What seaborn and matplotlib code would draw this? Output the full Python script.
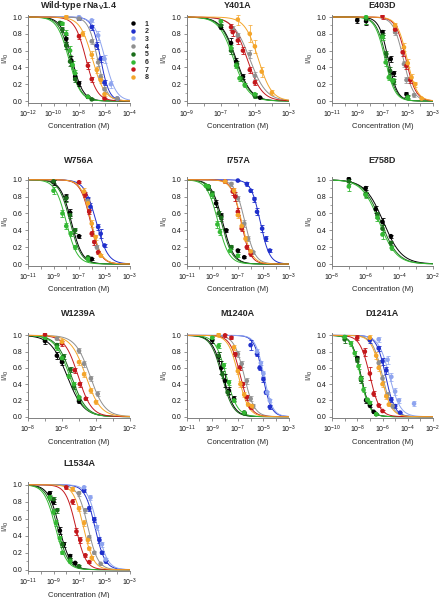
import numpy as np
import pandas as pd
import seaborn as sns
import matplotlib.pyplot as plt
from matplotlib.lines import Line2D
from matplotlib.ticker import FixedLocator, FuncFormatter, MultipleLocator, NullLocator

sns.set_theme(style="ticks")
plt.rcParams['font.family'] = ['Liberation Sans', 'DejaVu Sans']
plt.rcParams['mathtext.fontset'] = 'custom'
plt.rcParams['mathtext.rm'] = 'Liberation Sans'

# cores dos compostos 1-8
COLORS = {1: '#000000', 2: '#1f2fcc', 3: '#8ea4ef', 4: '#8f8f8f',
          5: '#1b6e1b', 6: '#33b833', 7: '#c4181c', 8: '#f4a52a'}

# ---- dados: fit (log IC50, nH) e pontos (log C, I/I0, erro) ----
WT_XLIM = (-12, -4)
WT_FIT = {1: (-8.55, 1.0), 2: (-6.3, 1.3), 3: (-5.95, 1.0), 4: (-6.55, 1.2),
          5: (-8.7, 1.0), 6: (-8.8, 0.95), 7: (-7.45, 1.0), 8: (-6.95, 0.9)}
WT_PTS = {
    1: ([-9, -8.6, -8.3, -8, -7.3], [0.74, 0.48, 0.29, 0.21, 0.05], [0.04, 0.05, 0.04, 0.03, 0.01]),
    2: ([-8, -7, -6.6, -6.3, -6, -5], [0.98, 0.88, 0.66, 0.50, 0.22, 0.03], [0.01, 0.03, 0.04, 0.04, 0.03, 0.01]),
    3: ([-8, -7, -6.5, -6, -5.5, -5], [1.0, 0.96, 0.78, 0.50, 0.20, 0.03], [0.01, 0.02, 0.05, 0.05, 0.04, 0.01]),
    4: ([-8, -7, -6.5, -6.3, -6, -5], [0.98, 0.71, 0.46, 0.29, 0.14, 0.03], [0.01, 0.03, 0.04, 0.03, 0.03, 0.01]),
    5: ([-9.5, -9.3, -9, -8.7, -8.3, -7], [0.93, 0.85, 0.66, 0.47, 0.26, 0.02], [0.02, 0.03, 0.04, 0.05, 0.03, 0.01]),
    6: ([-9.3, -9, -8.7, -8.5, -8.3, -7.3], [0.92, 0.80, 0.60, 0.43, 0.33, 0.05], [0.02, 0.04, 0.05, 0.05, 0.04, 0.01]),
    7: ([-8, -7.3, -7, -6], [0.77, 0.42, 0.26, 0.03], [0.03, 0.04, 0.03, 0.01]),
    8: ([-9, -7.7, -7, -6.6, -6.3, -6], [1.0, 0.80, 0.55, 0.37, 0.25, 0.08], [0.02, 0.03, 0.04, 0.04, 0.03, 0.02]),
}

Y401A_XLIM = (-9, -3)
Y401A_FIT = {1: (-6.1, 1.0), 4: (-5.3, 0.9), 5: (-6.15, 1.0), 6: (-6.25, 1.0),
             7: (-5.45, 1.0), 8: (-4.8, 1.1)}
Y401A_PTS = {
    1: ([-7, -6.4, -6.1, -5.7, -5, -4.7], [0.88, 0.69, 0.47, 0.29, 0.07, 0.04], [0.02, 0.06, 0.04, 0.03, 0.02, 0.01]),
    4: ([-6.3, -6, -5.3, -5], [0.86, 0.78, 0.56, 0.30], [0.03, 0.03, 0.05, 0.04]),
    5: ([-7, -6.4, -6.05, -5.8, -5], [0.90, 0.60, 0.44, 0.27, 0.06], [0.02, 0.04, 0.04, 0.03, 0.02]),
    6: ([-7, -6.4, -6.1, -5.9, -5.6, -5], [0.95, 0.63, 0.42, 0.27, 0.19, 0.08], [0.01, 0.04, 0.03, 0.03, 0.02, 0.02]),
    7: ([-6.4, -6.3, -6, -5.7, -5.3, -5], [0.88, 0.82, 0.72, 0.60, 0.37, 0.22], [0.04, 0.04, 0.04, 0.04, 0.04, 0.03]),
    8: ([-6, -5.3, -5, -4.6, -4], [0.97, 0.80, 0.65, 0.35, 0.10], [0.06, 0.10, 0.08, 0.06, 0.03]),
}

E403D_XLIM = (-11, -3)
E403D_FIT = {1: (-6.55, 1.2), 4: (-5.35, 1.1), 5: (-6.7, 1.1), 6: (-6.8, 1.1),
             7: (-5.15, 1.1), 8: (-5.05, 1.1)}
E403D_PTS = {
    1: ([-9, -8.3, -7, -6.35, -6.1, -5.1], [0.96, 0.95, 0.82, 0.50, 0.33, 0.08], [0.03, 0.04, 0.03, 0.04, 0.03, 0.03]),
    4: ([-6, -5.3, -5.1, -4.5], [0.82, 0.44, 0.25, 0.07], [0.03, 0.04, 0.03, 0.02]),
    5: ([-8.3, -7, -6.7, -6.4, -6.1, -5], [0.98, 0.78, 0.56, 0.36, 0.23, 0.05], [0.06, 0.03, 0.04, 0.04, 0.03, 0.02]),
    6: ([-8.3, -7, -6.75, -6.5, -6.2, -5], [1.0, 0.76, 0.46, 0.28, 0.24, 0.04], [0.08, 0.03, 0.04, 0.03, 0.03, 0.02]),
    7: ([-7, -6, -5.4, -5.1, -4.8], [1.01, 0.85, 0.58, 0.42, 0.25], [0.03, 0.04, 0.05, 0.04, 0.03]),
    8: ([-6, -5.3, -5, -4.7, -4.4, -3.9], [0.90, 0.64, 0.45, 0.28, 0.20, 0.03], [0.03, 0.05, 0.05, 0.04, 0.03, 0.01]),
}

W756A_XLIM = (-11, -3)
W756A_FIT = {1: (-7.6, 1.0), 2: (-5.65, 0.95), 4: (-6.05, 1.1), 5: (-7.7, 1.0),
             6: (-8.0, 1.0), 7: (-6.1, 1.1), 8: (-6.05, 1.1)}
W756A_PTS = {
    1: ([-9, -8, -7.7, -7, -6], [0.97, 0.79, 0.61, 0.33, 0.06], [0.03, 0.04, 0.04, 0.02, 0.01]),
    2: ([-6.3, -6.1, -5.5, -5.3, -5], [0.77, 0.68, 0.44, 0.36, 0.22], [0.03, 0.04, 0.04, 0.05, 0.02]),
    4: ([-6.3, -5.6], [0.75, 0.20], [0.03, 0.02]),
    5: ([-9, -8, -7.7, -7.3, -6.3], [0.98, 0.78, 0.58, 0.40, 0.08], [0.02, 0.04, 0.04, 0.03, 0.02]),
    6: ([-9, -8.3, -8, -7.65, -7.3, -6.3], [0.87, 0.60, 0.45, 0.36, 0.20, 0.06], [0.04, 0.04, 0.04, 0.03, 0.02, 0.02]),
    7: ([-7, -6.5, -6.2, -6, -5.8, -5.5], [0.97, 0.82, 0.62, 0.36, 0.26, 0.14], [0.01, 0.03, 0.03, 0.03, 0.03, 0.02]),
    8: ([-6.6, -6.3, -6, -5.7, -5.3], [0.86, 0.72, 0.48, 0.32, 0.10], [0.04, 0.03, 0.04, 0.03, 0.02]),
}

I757A_XLIM = (-11, -3)
I757A_FIT = {1: (-8.2, 1.0), 2: (-5.25, 1.2), 4: (-6.45, 1.1), 5: (-8.3, 1.0),
             6: (-8.55, 1.0), 7: (-6.75, 1.2), 8: (-6.7, 1.1)}
I757A_PTS = {
    1: ([-9.3, -8.7, -8.3, -7.9, -7, -6.5], [0.92, 0.72, 0.57, 0.40, 0.16, 0.08], [0.02, 0.04, 0.04, 0.02, 0.02, 0.01]),
    2: ([-7, -6.3, -6, -5.7, -5.5, -5.1, -4.8, -4.5], [0.99, 0.95, 0.87, 0.77, 0.62, 0.42, 0.30, 0.16], [0.01, 0.02, 0.02, 0.03, 0.04, 0.04, 0.03, 0.02]),
    4: ([-7.5, -7, -6.5, -6.2, -5.8], [0.95, 0.78, 0.48, 0.30, 0.14], [0.02, 0.03, 0.04, 0.03, 0.02]),
    5: ([-9.3, -9, -8.5, -8.3, -7.5], [0.90, 0.84, 0.60, 0.55, 0.20], [0.02, 0.03, 0.03, 0.04, 0.02]),
    6: ([-9.5, -9.3, -9, -8.6, -8.4, -7.6, -7], [0.93, 0.92, 0.82, 0.47, 0.38, 0.16, 0.10], [0.02, 0.02, 0.04, 0.04, 0.03, 0.02, 0.02]),
    7: ([-8, -7.4, -7.2, -7, -6.7, -6.3, -6], [0.98, 0.86, 0.80, 0.62, 0.42, 0.20, 0.12], [0.02, 0.04, 0.05, 0.04, 0.03, 0.02, 0.02]),
    8: ([-8, -7.3, -7, -6.7, -6.4, -6], [0.98, 0.87, 0.58, 0.45, 0.30, 0.15], [0.02, 0.03, 0.04, 0.04, 0.03, 0.02]),
}

E758D_XLIM = (-8, -2)
E758D_FIT = {1: (-4.95, 0.8), 5: (-5.1, 0.85), 6: (-5.2, 0.85)}
E758D_PTS = {
    1: ([-7, -6, -5.4, -5, -4.5], [1.01, 0.90, 0.65, 0.50, 0.33], [0.03, 0.02, 0.04, 0.04, 0.02]),
    5: ([-7, -6, -5.3, -5, -4.5], [0.98, 0.83, 0.58, 0.42, 0.25], [0.03, 0.03, 0.04, 0.04, 0.02]),
    6: ([-7, -6, -5.3, -5, -4.45], [0.92, 0.82, 0.55, 0.35, 0.19], [0.05, 0.04, 0.04, 0.05, 0.02]),
}

W1239A_XLIM = (-8, -2)
W1239A_FIT = {1: (-5.7, 0.9), 4: (-4.35, 1.0), 5: (-5.45, 1.0), 6: (-5.55, 1.0),
              7: (-5.05, 1.1), 8: (-4.6, 1.0)}
W1239A_PTS = {
    1: ([-7, -6.3, -6, -5], [0.93, 0.75, 0.67, 0.19], [0.04, 0.04, 0.04, 0.02]),
    4: ([-6.3, -5, -4.7, -4.3, -3.9], [0.96, 0.81, 0.65, 0.47, 0.28], [0.02, 0.03, 0.04, 0.03, 0.03]),
    5: ([-6.3, -5.9, -5.5, -5.3, -5], [0.88, 0.74, 0.58, 0.37, 0.22], [0.03, 0.03, 0.03, 0.03, 0.02]),
    6: ([-7, -6.3, -6, -5.6, -5.3, -5], [0.97, 0.85, 0.72, 0.50, 0.40, 0.24], [0.03, 0.03, 0.03, 0.03, 0.03, 0.02]),
    7: ([-7, -6, -5.25, -4.95, -4.6], [1.01, 0.90, 0.57, 0.40, 0.22], [0.04, 0.03, 0.03, 0.03, 0.02]),
    8: ([-6, -5, -4.7, -4.3, -4], [0.92, 0.67, 0.52, 0.32, 0.18], [0.03, 0.03, 0.03, 0.03, 0.02]),
}

M1240A_XLIM = (-11, -3)
M1240A_FIT = {1: (-8.15, 1.0), 2: (-5.05, 1.3), 3: (-4.95, 1.3), 4: (-6.5, 1.1),
              5: (-8.25, 1.0), 6: (-7.9, 1.0), 7: (-6.8, 1.1), 8: (-6.95, 1.1)}
M1240A_PTS = {
    1: ([-9, -8.5, -8.3, -8, -7.7, -7.3, -6.5], [0.94, 0.74, 0.60, 0.44, 0.32, 0.22, 0.05], [0.04, 0.06, 0.08, 0.08, 0.04, 0.03, 0.01]),
    2: ([-6, -5.5, -5.3, -5, -4.8, -4.5], [0.88, 0.77, 0.60, 0.46, 0.30, 0.12], [0.06, 0.03, 0.03, 0.03, 0.02, 0.02]),
    3: ([-5.5, -5.2, -5, -4.7, -4.5], [0.80, 0.66, 0.53, 0.30, 0.20], [0.03, 0.03, 0.03, 0.02, 0.02]),
    4: ([-7, -6.7, -6.3, -6, -5.8], [0.77, 0.65, 0.44, 0.22, 0.13], [0.04, 0.04, 0.04, 0.03, 0.02]),
    5: ([-8.5, -8.2, -7.8, -6.5], [0.75, 0.52, 0.30, 0.04], [0.04, 0.04, 0.03, 0.01]),
    6: ([-9, -8.5, -8.1, -7.7, -7.3, -6.5], [0.97, 0.87, 0.63, 0.42, 0.20, 0.05], [0.02, 0.03, 0.03, 0.03, 0.02, 0.01]),
    7: ([-8, -7.5, -7.2, -6.85, -6.6, -6.3, -6], [1.0, 0.97, 0.77, 0.60, 0.40, 0.24, 0.12], [0.02, 0.02, 0.03, 0.03, 0.03, 0.03, 0.02]),
    8: ([-8.5, -7.3, -7, -6.8, -6.5, -6.2, -5.9], [1.01, 0.85, 0.56, 0.40, 0.27, 0.15, 0.13], [0.03, 0.03, 0.04, 0.04, 0.03, 0.02, 0.02]),
}

D1241A_XLIM = (-10, -2)
D1241A_FIT = {1: (-7.7, 1.2), 2: (-5.75, 1.2), 3: (-5.45, 1.0), 4: (-6.0, 1.1),
              5: (-7.72, 1.2), 6: (-7.75, 1.2), 7: (-7.0, 1.1), 8: (-6.1, 1.1)}
D1241A_PTS = {
    1: ([-8, -7.7, -7.3, -7, -6.7], [0.72, 0.47, 0.20, 0.14, 0.06], [0.03, 0.03, 0.03, 0.02, 0.01]),
    2: ([-7, -6.3, -6, -5.7, -5.3, -5, -4.6], [0.94, 0.84, 0.68, 0.57, 0.21, 0.13, 0.05], [0.03, 0.03, 0.04, 0.04, 0.03, 0.02, 0.01]),
    3: ([-6.3, -5.6, -5.3, -5, -4.7, -3.5], [0.95, 0.70, 0.49, 0.31, 0.20, 0.16], [0.03, 0.05, 0.05, 0.04, 0.03, 0.03]),
    4: ([-6.3, -6, -5.6, -5.2], [0.66, 0.47, 0.27, 0.13], [0.04, 0.04, 0.03, 0.02]),
    5: ([-9, -8, -7.7, -7.2, -6.5], [0.95, 0.70, 0.45, 0.20, 0.03], [0.04, 0.03, 0.03, 0.02, 0.01]),
    6: ([-9, -8.5, -8.2, -7.9, -7.7, -7.5, -7.2, -7, -6.5], [0.98, 0.90, 0.78, 0.62, 0.47, 0.33, 0.21, 0.17, 0.03], [0.03, 0.03, 0.03, 0.03, 0.03, 0.03, 0.02, 0.02, 0.01]),
    7: ([-8, -7.4, -7, -6.7, -6.3, -6], [0.97, 0.80, 0.53, 0.28, 0.14, 0.07], [0.03, 0.05, 0.08, 0.03, 0.02, 0.01]),
    8: ([-7, -6.5, -6.3, -6, -5.7, -5.5], [0.97, 0.75, 0.60, 0.40, 0.25, 0.15], [0.03, 0.04, 0.04, 0.04, 0.03, 0.02]),
}

L1534A_XLIM = (-11, -3)
L1534A_FIT = {1: (-8.55, 1.0), 2: (-5.75, 1.1), 3: (-5.55, 1.1), 4: (-6.3, 1.1),
              5: (-8.7, 1.0), 6: (-8.85, 1.0), 7: (-7.25, 1.1), 8: (-6.65, 1.1)}
L1534A_PTS = {
    1: ([-9.3, -9, -8.5, -8.2, -7.7, -7.3], [0.90, 0.80, 0.46, 0.30, 0.16, 0.08], [0.03, 0.03, 0.04, 0.03, 0.02, 0.01]),
    2: ([-6.6, -6.2, -5.8, -5.4, -5.2, -4.9], [0.93, 0.72, 0.59, 0.35, 0.20, 0.10], [0.02, 0.03, 0.03, 0.03, 0.02, 0.02]),
    3: ([-6.6, -6.1, -5.6, -5.2, -4.9], [0.97, 0.85, 0.50, 0.30, 0.12], [0.02, 0.03, 0.03, 0.03, 0.02]),
    4: ([-7, -6.5, -6.2, -5.8, -5.3], [0.90, 0.70, 0.38, 0.20, 0.07], [0.03, 0.03, 0.03, 0.02, 0.01]),
    5: ([-9, -8.7, -8.3, -7.7, -7], [0.83, 0.70, 0.30, 0.12, 0.04], [0.03, 0.03, 0.03, 0.02, 0.01]),
    6: ([-9.3, -9, -8.8, -8.5, -8.3, -7.7], [0.85, 0.68, 0.55, 0.37, 0.20, 0.10], [0.03, 0.03, 0.03, 0.03, 0.02, 0.02]),
    7: ([-8, -7.5, -7.2, -6.9, -6.5, -6.2], [0.97, 0.80, 0.45, 0.35, 0.17, 0.09], [0.02, 0.03, 0.04, 0.03, 0.02, 0.01]),
    8: ([-7.5, -7, -6.6, -6.3, -6.2, -6], [0.95, 0.72, 0.55, 0.35, 0.25, 0.14], [0.02, 0.03, 0.03, 0.03, 0.02, 0.02]),
}

PAINEIS = [
    (r'Wild-type rNa$_\mathregular{V}$1.4', WT_XLIM, WT_FIT, WT_PTS),
    ('Y401A', Y401A_XLIM, Y401A_FIT, Y401A_PTS),
    ('E403D', E403D_XLIM, E403D_FIT, E403D_PTS),
    ('W756A', W756A_XLIM, W756A_FIT, W756A_PTS),
    ('I757A', I757A_XLIM, I757A_FIT, I757A_PTS),
    ('E758D', E758D_XLIM, E758D_FIT, E758D_PTS),
    ('W1239A', W1239A_XLIM, W1239A_FIT, W1239A_PTS),
    ('M1240A', M1240A_XLIM, M1240A_FIT, M1240A_PTS),
    ('D1241A', D1241A_XLIM, D1241A_FIT, D1241A_PTS),
    ('L1534A', L1534A_XLIM, L1534A_FIT, L1534A_PTS),
]

# layout em pixels (imagem 442x598)
W, H = 442, 598
ROWS = [(14.5, 102.7), (177.2, 265.7), (332.9, 418.3), (482.2, 571.4)]
COLS = [(28, 130), (186.7, 289), (332, 433)]
TITLE_Y = [5.5, 161, 313, 464]
YLIM = (-0.02, 1.03)
AX_GRAY = '#808080'


def hill(logc, logic50, nh):
    return 1.0 / (1.0 + 10 ** (nh * (logc - logic50)))


def plotar_painel(fig, idx, titulo, xlim, fit, pts):
    r, c = divmod(idx, 3)
    y0, y1 = ROWS[r]
    x0, x1 = COLS[c]
    ax = fig.add_axes([x0 / W, 1 - y1 / H, (x1 - x0) / W, (y1 - y0) / H])

    # curvas de Hill
    grade = np.linspace(xlim[0], xlim[1], 300)
    curvas = pd.concat([pd.DataFrame({'conc': 10 ** grade, 'y': hill(grade, *fit[k]), 'cpd': k})
                        for k in fit])
    sns.lineplot(data=curvas, x='conc', y='y', hue='cpd', palette=COLORS,
                 linewidth=0.7, legend=False, ax=ax, zorder=2)

    # pontos + barras de erro
    linhas = []
    for k, (lc, yv, ev) in pts.items():
        for a, b, e in zip(lc, yv, ev):
            linhas.append({'conc': 10 ** a, 'y': b, 'err': e, 'cpd': k})
    df = pd.DataFrame(linhas)
    for k, sub in df.groupby('cpd'):
        ax.errorbar(sub['conc'], sub['y'], yerr=sub['err'], fmt='none',
                    ecolor=COLORS[k], elinewidth=0.6, capsize=1.2, capthick=0.6,
                    alpha=0.85 if k in (3, 4, 8) else 1, zorder=3)
    sns.scatterplot(data=df, x='conc', y='y', hue='cpd', palette=COLORS, s=11,
                    linewidth=0, legend=False, ax=ax, zorder=4)

    ax.set_xscale('log')
    ax.set_xlim(10.0 ** xlim[0], 10.0 ** xlim[1])
    ax.set_ylim(*YLIM)
    decadas = np.arange(xlim[0], xlim[1] + 1)
    ax.xaxis.set_major_locator(FixedLocator(10.0 ** decadas))
    ax.xaxis.set_minor_locator(NullLocator())
    lo = xlim[0]
    ax.xaxis.set_major_formatter(FuncFormatter(
        lambda v, p: (r'$10^{%d}$' % round(np.log10(v))) if (round(np.log10(v)) - lo) % 2 == 0 else ''))
    ax.yaxis.set_major_locator(FixedLocator([0, 0.2, 0.4, 0.6, 0.8, 1.0]))
    ax.yaxis.set_minor_locator(MultipleLocator(0.1))
    ax.yaxis.set_major_formatter(FuncFormatter(lambda v, p: '%.1f' % v))

    sns.despine(ax=ax)
    for s in ('left', 'bottom'):
        ax.spines[s].set_color(AX_GRAY)
        ax.spines[s].set_linewidth(0.7)
    ax.tick_params(which='major', direction='out', length=2.5, width=0.6, color=AX_GRAY,
                   labelsize=5, pad=1.5, labelcolor='#111111')
    ax.tick_params(which='minor', direction='out', length=1.5, width=0.5, color=AX_GRAY)
    ax.set_xlabel('Concentration (M)', fontsize=5.5, labelpad=2.5)
    ax.set_ylabel(r'I/I$_\mathregular{0}$', fontsize=5.5, labelpad=1)
    ax.set_facecolor('none')

    fig.text((x0 + x1) / 2 / W, 1 - TITLE_Y[r] / H, titulo, ha='center', va='center',
             fontsize=6.5, fontweight='bold')
    return ax


fig = plt.figure(figsize=(W / 100, H / 100), dpi=100)
eixos = [plotar_painel(fig, i, *p) for i, p in enumerate(PAINEIS)]

# legenda so no painel WT
handles = [Line2D([], [], linestyle='none', marker='o', markersize=3.2,
                  markerfacecolor=COLORS[k], markeredgewidth=0) for k in range(1, 9)]
eixos[0].legend(handles, [str(k) for k in range(1, 9)], loc='upper left',
                bbox_to_anchor=(131 / W, 1 - 20.5 / H), bbox_transform=fig.transFigure,
                frameon=False, handlelength=0.6, handletextpad=1.4, labelspacing=0.1,
                borderaxespad=0, borderpad=0, prop={'size': 5, 'weight': 'bold'})

fig.savefig('out.png', dpi=100)
